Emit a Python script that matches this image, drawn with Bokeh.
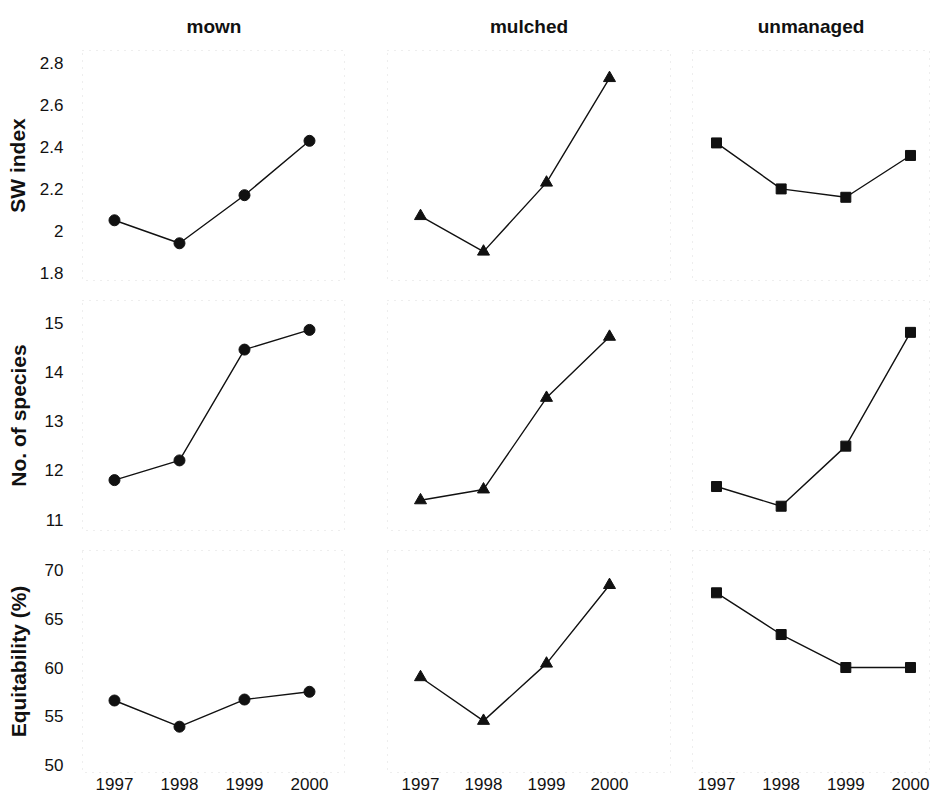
from bokeh.plotting import figure
from bokeh.layouts import gridplot
from bokeh.models import FixedTicker, CustomJSTickFormatter, Range1d
from bokeh.embed import file_html
from bokeh.resources import INLINE

years = [1997, 1998, 1999, 2000]
treatments = ["mown", "mulched", "unmanaged"]
row_labels = ["SW index", "No. of species", "Equitability (%)"]

sw_mown = [2.05, 1.94, 2.17, 2.43]
sw_mulched = [2.07, 1.90, 2.23, 2.73]
sw_unmanaged = [2.42, 2.20, 2.16, 2.36]

species_mown = [11.80, 12.20, 14.45, 14.85]
species_mulched = [11.39, 11.61, 13.47, 14.71]
species_unmanaged = [11.67, 11.27, 12.49, 14.80]

equit_mown = [56.6, 53.9, 56.7, 57.5]
equit_mulched = [59.0, 54.5, 60.4, 68.5]
equit_unmanaged = [67.7, 63.4, 60.0, 60.0]

y_ticks = [
    [1.8, 2.0, 2.2, 2.4, 2.6, 2.8],
    [11, 12, 13, 14, 15],
    [50, 55, 60, 65, 70],
]

data = [
    [sw_mown, sw_mulched, sw_unmanaged],
    [species_mown, species_mulched, species_unmanaged],
    [equit_mown, equit_mulched, equit_unmanaged],
]

markers = ["circle", "triangle", "square"]
marker_sizes = [11, 12, 10]

# layout (positions / styles)
col_width = [345, 335, 258]
col_border_left = [82, 42, 12]
col_border_right = [0, 10, 9]
col_xrange = [(1996.508, 2000.554), (1996.476, 2000.968), (1996.629, 2000.294)]
title_offset = [-4, -14, -14]

row_height = [290, 250, 260]
row_border_top = [50, 10, 10]
row_border_bottom = [10, 10, 28]
row_yrange = [(1.762, 2.862), (10.777, 15.447), (49.18, 72.06)]
label_standoff = [8, 12, 12]

FONT = "Liberation Sans"
INK = "#111111"

rows = []
for r in range(3):
    row = []
    for c in range(3):
        p = figure(
            width=col_width[c], height=row_height[r],
            x_range=Range1d(*col_xrange[c]), y_range=Range1d(*row_yrange[r]),
            output_backend="svg", toolbar_location=None,
            x_axis_location="below" if r == 2 else None,
            y_axis_location="left" if c == 0 else None,
            min_border_left=col_border_left[c], min_border_right=col_border_right[c],
            min_border_top=row_border_top[r], min_border_bottom=row_border_bottom[r],
        )
        p.grid.visible = False
        p.outline_line_color = "#dcdcdc"
        p.outline_line_dash = "1 6"
        p.background_fill_color = "white"
        p.border_fill_color = "white"

        if r == 0:
            p.title.text = treatments[c]
            p.title.align = "center"
            p.title.text_font = FONT
            p.title.text_font_size = "19px"
            p.title.text_font_style = "bold"
            p.title.text_color = INK
            p.title.standoff = 27
            p.title.offset = title_offset[c]

        if c == 0:
            ax = p.yaxis[0]
            ax.ticker = FixedTicker(ticks=y_ticks[r])
            ax.formatter = CustomJSTickFormatter(code="return String(Math.round(tick*10)/10);")
            ax.axis_line_color = None
            ax.major_tick_line_color = None
            ax.minor_tick_line_color = None
            ax.major_tick_out = 0
            ax.major_tick_in = 0
            ax.minor_tick_out = 0
            ax.major_label_standoff = 19
            ax.major_label_text_font = FONT
            ax.major_label_text_font_size = "17px"
            ax.major_label_text_color = INK
            ax.axis_label = row_labels[r]
            ax.axis_label_text_font = FONT
            ax.axis_label_text_font_size = "21px"
            ax.axis_label_text_font_style = "bold"
            ax.axis_label_text_color = INK
            ax.axis_label_standoff = label_standoff[r]

        if r == 2:
            ax = p.xaxis[0]
            ax.ticker = FixedTicker(ticks=years)
            ax.axis_line_color = None
            ax.major_tick_line_color = None
            ax.minor_tick_line_color = None
            ax.major_tick_out = 0
            ax.major_tick_in = 0
            ax.minor_tick_out = 0
            ax.major_label_standoff = 5
            ax.major_label_text_font = FONT
            ax.major_label_text_font_size = "17px"
            ax.major_label_text_color = INK

        vals = data[r][c]
        p.line(years, vals, line_color=INK, line_width=1.4)
        p.scatter(years, vals, marker=markers[c], size=marker_sizes[c],
                  fill_color=INK, line_color=INK)
        row.append(p)
    rows.append(row)

grid = gridplot(rows, toolbar_location=None)

open("out.html", "w").write(file_html(grid, INLINE))
